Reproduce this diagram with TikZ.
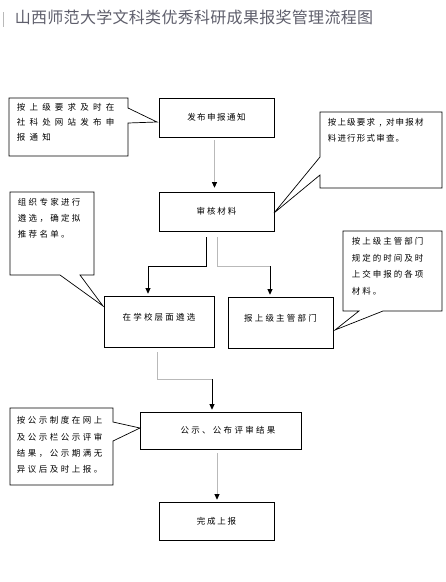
\documentclass[tikz,border=0pt]{standalone}
\usepackage{fontspec}
\newfontfamily\cjk{Noto Sans CJK SC}
\usetikzlibrary{arrows.meta}
\makeatletter
\newcommand\spc[2]{\@tfor\spctok:=#2\do{\makebox[#1]{\spctok}}}
\makeatother
\definecolor{titlegray}{RGB}{95,95,108}
\definecolor{lightline}{RGB}{185,185,185}
\begin{document}
\begin{tikzpicture}[x=1pt,y=-1pt,
  box/.style={draw=black,line width=0.7pt,inner sep=0pt,text height=7.4pt,text depth=1pt,font=\cjk\fontsize{8.5pt}{10pt}\selectfont},
  bubble/.style={draw=black,line width=0.7pt,fill=white,line join=miter},
  note/.style={anchor=north west,inner sep=0pt,align=left,font=\cjk\fontsize{8.5pt}{16pt}\selectfont},
  lconn/.style={draw=lightline,line width=0.8pt},
  dconn/.style={draw=black,line width=0.8pt},
  tip/.style={-{Triangle[width=5pt,length=5.5pt,color=black]}}]
\useasboundingbox (0,0) rectangle (446,582);
\fill[white] (0,0) rectangle (446,582);

% title
\draw[lightline,line width=1pt] (3,12) -- (3,27);
\node[anchor=west,inner sep=0pt,text=titlegray,font=\cjk\fontsize{16pt}{18pt}\selectfont] (title) at (14.5,17.5) {\spc{16.3pt}{山西师范大学文科类优秀科研成果报奖管理流程图}};

% callouts
\draw[bubble] (9,98) -- (128,98) -- (128,108) -- (157,122) -- (128,123) -- (128,156) -- (9,156) -- cycle;
\node[note,font=\cjk\fontsize{8.5pt}{15pt}\selectfont] (n1) at (14.6,103.5) {\spc{12.7pt}{按上级要求及时在}\\\spc{12.7pt}{社科处网站发布申}\\\spc{12.7pt}{报通知}};

\draw[bubble] (320,112) -- (442,112) -- (442,188) -- (320,188) -- (320,175) -- (274,213) -- (320,157) -- cycle;
\node[note] (n2) at (327,118.5) {\spc{9.7pt}{按上级要求,对申报材}\\\spc{9.7pt}{料进行形式审查。}};

\draw[bubble] (10,192) -- (94,192) -- (94,275) -- (80,275) -- (103,306) -- (60,275) -- (10,275) -- cycle;
\node[note] (n3) at (16.6,198.5) {\spc{10.8pt}{组织专家进行}\\\spc{10.8pt}{遴选，确定拟}\\\spc{10.8pt}{推荐名单。}};

\draw[bubble] (343,231) -- (442,231) -- (442,311) -- (383,311) -- (335,330) -- (359,311) -- (343,311) -- cycle;
\node[note,font=\cjk\fontsize{8.5pt}{16.5pt}\selectfont] (n4) at (350.7,237.5) {\spc{10.5pt}{按上级主管部门}\\\spc{10.5pt}{规定的时间及时}\\\spc{10.5pt}{上交申报的各项}\\\spc{10.5pt}{材料。}};

\draw[bubble] (10,408) -- (113,408) -- (113,422) -- (140,428) -- (113,441) -- (113,485) -- (10,485) -- cycle;
\node[note,font=\cjk\fontsize{8.5pt}{16.3pt}\selectfont] (n5) at (15.5,416.5) {\spc{11pt}{按公示制度在网上}\\\spc{11pt}{及公示栏公示评审}\\\spc{11pt}{结果，公示期满无}\\\spc{11pt}{异议后及时上报。}};

% boxes
\node[box,minimum width=115pt,minimum height=39pt] (a) at (216.5,117.5) {\spc{10pt}{发布申报通知}};
\node[box,minimum width=115pt,minimum height=39pt] (b) at (216.5,211.5) {\spc{10.4pt}{审核材料}};
\node[box,minimum width=110pt,minimum height=51pt,text depth=10.4pt] (c) at (159,321.5) {\spc{10.7pt}{在学校层面遴选}};
\node[box,minimum width=105pt,minimum height=51pt,text depth=10.4pt] (d) at (280.5,322.5) {\spc{10.7pt}{报上级主管部门}};
\node[box,minimum width=161pt,minimum height=37pt] (e) at (220.5,430.5) {\hspace*{15pt}\spc{10.8pt}{公示、公布评审结果}};
\node[box,minimum width=115pt,minimum height=38pt] (f) at (216.5,521) {\spc{10.3pt}{完成上报}};

% connectors
\draw[lconn,tip,shorten <=3pt,shorten >=4pt] ([xshift=-2pt]a.south) -- ([xshift=-2pt]b.north);
\draw[dconn,tip,shorten <=6pt,shorten >=2pt] ([xshift=-10.5pt]b.south) -- ++(0,35) -| ([xshift=-11pt]c.north);
\coordinate (bdk) at (270,266);
\draw[lconn,shorten <=6pt] ([xshift=0.5pt]b.south) |- (bdk);
\draw[dconn,tip,shorten >=2pt] (bdk) -- ([xshift=-10.5pt]d.north);
\coordinate (cek) at (212,379);
\draw[lconn,shorten <=5pt] ([xshift=-2pt]c.south) |- (cek);
\draw[dconn,tip,shorten >=2pt] (cek) -- ([xshift=-8.5pt]e.north);
\draw[lconn,tip,shorten <=4pt,shorten >=2pt] ([xshift=-3.5pt]e.south) -- ([xshift=0.5pt]f.north);
\end{tikzpicture}
\end{document}
